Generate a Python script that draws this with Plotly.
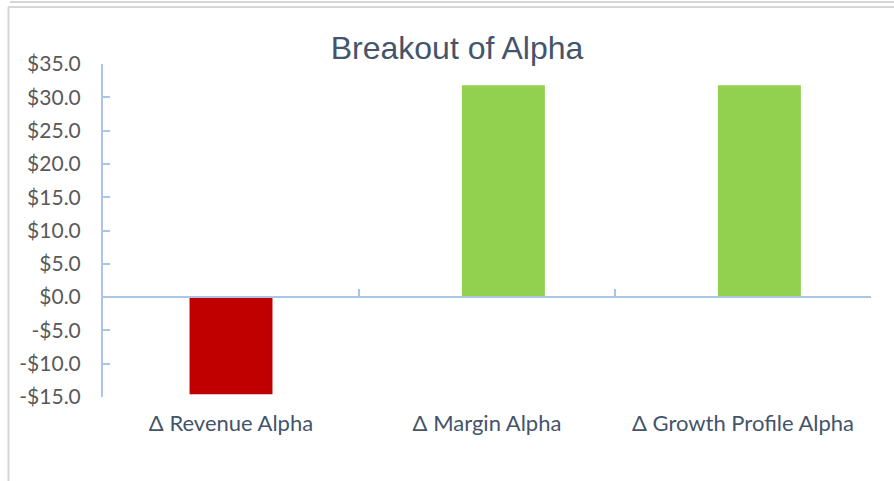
import plotly.graph_objects as go

categories = ["Δ Revenue Alpha", "Δ Margin Alpha", "Δ Growth Profile Alpha"]
negative_values = [-14.6, None, None]
positive_values = [None, 31.8, 31.8]
tick_vals = [35, 30, 25, 20, 15, 10, 5, 0, -5, -10, -15]
tick_text = ["$35.0", "$30.0", "$25.0", "$20.0", "$15.0", "$10.0", "$5.0", "$0.0", "-$5.0", "-$10.0", "-$15.0"]

W, H = 894, 481
L, R, T, B = 103, 23, 64, 84
pw, ph = W - L - R, H - T - B

def px_x(x):
    return (x - L) / pw

def px_y(y):
    return (H - B - y) / ph

axis_col = "#A9C6E6"
label_font = "Lato, 'Noto Sans', sans-serif"
bar_w = 0.324

fig = go.Figure()
fig.add_trace(go.Bar(x=categories, y=negative_values, marker=dict(color="#C00000", line=dict(width=0)),
                     width=bar_w, offset=-bar_w / 2, showlegend=False, hoverinfo="x+y"))
fig.add_trace(go.Bar(x=categories, y=positive_values, marker=dict(color="#92D050", line=dict(width=0)),
                     width=bar_w, offset=-bar_w / 2 + 0.064, showlegend=False, hoverinfo="x+y"))
fig.add_trace(go.Scatter(x=categories, y=[0, 0, 0], xaxis="x2", mode="lines",
                         line=dict(width=0), showlegend=False, hoverinfo="skip"))

ymin, ymax = -15, 35
fig.update_layout(
    width=W, height=H,
    margin=dict(l=L, r=R, t=T, b=B),
    paper_bgcolor="white", plot_bgcolor="white",
    barmode="overlay",
    title=dict(text="Breakout of Alpha", x=457 / W, xanchor="center", y=1 - 48 / H, yanchor="middle",
               font=dict(family="'Liberation Sans', Arial, sans-serif", size=32, color="#44546A")),
    xaxis=dict(type="category", categoryarray=categories, showline=False, ticks="", showgrid=False,
               tickfont=dict(family=label_font, size=22, color="#44546A"), ticklabelstandoff=11,
               range=[-0.5, 2.5]),
    xaxis2=dict(type="category", overlaying="x", matches="x", anchor="free",
                position=(0 - ymin) / (ymax - ymin), showline=True, linecolor=axis_col, linewidth=2,
                ticks="inside", tickson="boundaries", ticklen=7, tickcolor=axis_col, tickwidth=2,
                showticklabels=False, showgrid=False),
    yaxis=dict(range=[ymin, ymax], tickvals=tick_vals, ticktext=tick_text, showgrid=False, zeroline=False,
               showline=True, linecolor=axis_col, linewidth=2, ticks="inside", ticklen=7,
               tickcolor=axis_col, tickwidth=2, ticklabelstandoff=16,
               tickfont=dict(family=label_font, size=21, color="#595959")),
    shapes=[
        dict(type="line", xref="paper", yref="paper", x0=px_x(10), x1=px_x(W + 5), y0=px_y(2), y1=px_y(2),
             line=dict(color="#D6D6D6", width=2)),
        dict(type="line", xref="paper", yref="paper", x0=px_x(8), x1=px_x(W + 5), y0=px_y(7), y1=px_y(7),
             line=dict(color="#D6D6D6", width=2)),
        dict(type="line", xref="paper", yref="paper", x0=px_x(8.5), x1=px_x(8.5), y0=px_y(7), y1=px_y(H + 5),
             line=dict(color="#D6D6D6", width=2)),
    ],
)

fig.write_html("out.html", config={"displayModeBar": False},
               post_script="document.body.style.margin='0px';document.body.style.overflow='hidden';")
